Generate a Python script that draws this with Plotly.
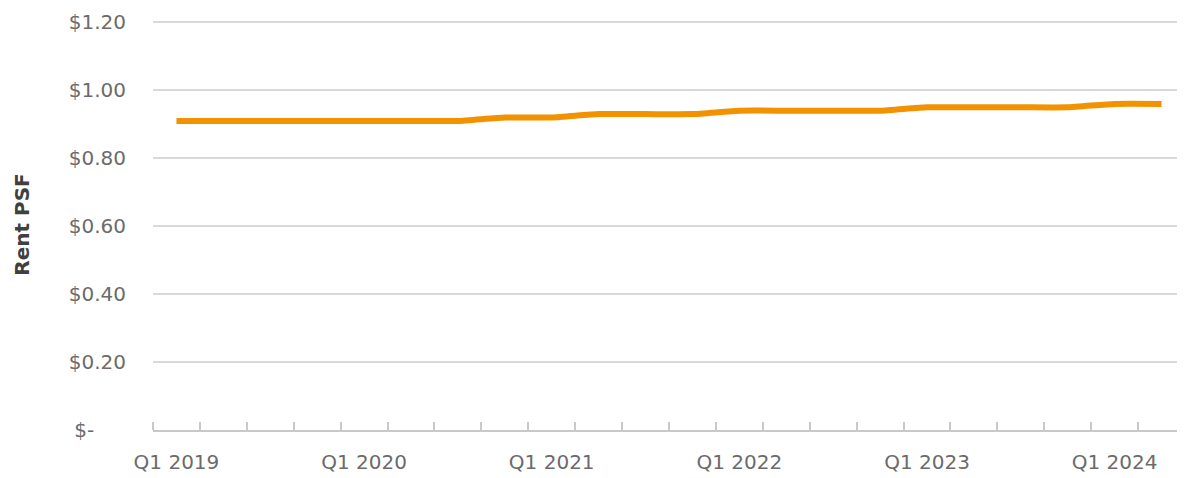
import plotly.graph_objects as go

quarters = ["Q1 2019", "Q2 2019", "Q3 2019", "Q4 2019",
            "Q1 2020", "Q2 2020", "Q3 2020", "Q4 2020",
            "Q1 2021", "Q2 2021", "Q3 2021", "Q4 2021",
            "Q1 2022", "Q2 2022", "Q3 2022", "Q4 2022",
            "Q1 2023", "Q2 2023", "Q3 2023", "Q4 2023",
            "Q1 2024", "Q2 2024"]
rent_psf = [0.91, 0.91, 0.91, 0.91,
            0.91, 0.91, 0.91, 0.92,
            0.92, 0.93, 0.93, 0.93,
            0.94, 0.94, 0.94, 0.94,
            0.95, 0.95, 0.95, 0.95,
            0.96, 0.96]
y_tick_vals = [0, 0.2, 0.4, 0.6, 0.8, 1.0, 1.2]
y_tick_text = ["$-\u00a0\u00a0\u00a0\u00a0\u00a0", "$0.20", "$0.40", "$0.60", "$0.80", "$1.00", "$1.20"]

x_idx = list(range(len(quarters)))
label_idx = [i for i, q in enumerate(quarters) if q.startswith("Q1")]

FONT = "'DejaVu Sans', Verdana, sans-serif"

fig = go.Figure()
fig.add_trace(go.Scatter(
    x=x_idx, y=rent_psf, mode="lines",
    line=dict(color="#F39200", width=6, shape="spline", smoothing=0.5),
    hovertext=quarters, showlegend=False,
))

# page body has an 8px default margin; margins compensate for it
fig.update_layout(
    width=1185, height=478,
    margin=dict(l=145, r=8, t=11, b=56),
    paper_bgcolor="white", plot_bgcolor="white",
    font=dict(family=FONT, color="#6b6b6b", size=20),
    showlegend=False,
)
fig.update_xaxes(
    automargin=False,
    range=[-0.5, len(quarters) - 0.5],
    tickvals=label_idx, ticktext=[quarters[i] for i in label_idx],
    ticks="", showgrid=False, zeroline=False,
    showline=True, linecolor="#C8C8C8", linewidth=1.5,
    minor=dict(tick0=-0.5, dtick=1, ticks="inside", ticklen=8,
               tickcolor="#C8C8C8", tickwidth=1.5, showgrid=False),
    tickfont=dict(family=FONT, size=20, color="#6b6b6b"),
    ticklabelstandoff=13,
)
fig.update_yaxes(
    automargin=False,
    range=[0, 1.21],
    tickvals=y_tick_vals, ticktext=y_tick_text,
    showgrid=True, gridcolor="#D9D9D9", gridwidth=1.5,
    zeroline=False, showline=False, ticks="",
    tickfont=dict(family=FONT, size=20, color="#6b6b6b"),
    ticklabelstandoff=26,
    title=dict(text="<b>Rent PSF</b>", font=dict(family=FONT, size=20, color="#404040"), standoff=33),
)

fig.write_html("out.html")
